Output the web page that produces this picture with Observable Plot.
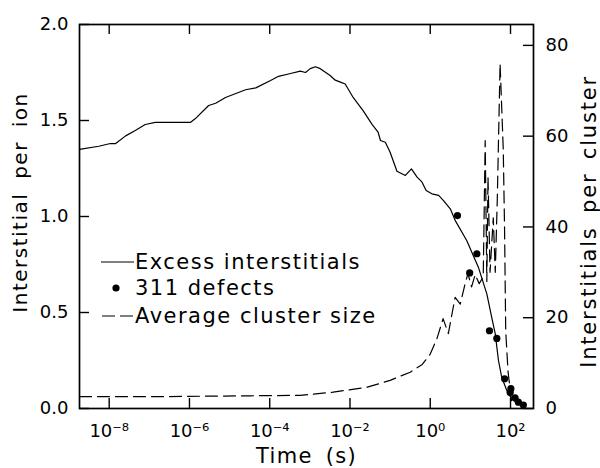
<!DOCTYPE html>
<html>
<head>
<meta charset="utf-8">
<script src="https://cdn.jsdelivr.net/npm/d3@7"></script>
<script src="https://cdn.jsdelivr.net/npm/@observablehq/plot@0.6"></script>
<style>
  body { margin: 0; background: #fff; }
  #wrap { position: relative; width: 600px; height: 468px; font-family: "DejaVu Sans", sans-serif; color: #000; overflow: hidden; }
  #legend .row { position: absolute; height: 26px; display: flex; align-items: center; font-size: 21px; letter-spacing: 1.5px; white-space: pre; }
  #legend svg { flex: none; }
</style>
</head>
<body>
<div id="wrap"><div id="legend"></div></div>
<script>
// ---- Data ----
// Excess interstitials (left axis, interstitials per ion)
const excessTime = [1.82e-9, 5.5e-9, 1.07e-8, 1.45e-8, 2.57e-8, 4.47e-8, 7.9e-8, 1.41e-7, 2.5e-7, 1.05e-6,
  1.41e-6, 3.0e-6, 4.5e-6, 7.9e-6, 2.5e-5, 4.5e-5, 1.05e-4, 1.66e-4, 3.3e-4, 5.8e-4,
  7.8e-4, 1.02e-3, 1.38e-3, 1.82e-3, 3.2e-3, 4.3e-3, 5.8e-3, 7.6e-3, 0.012, 0.0214,
  0.0355, 0.050, 0.0575, 0.076, 0.100, 0.148, 0.24, 0.34, 0.47, 0.62,
  0.79, 1.10, 1.62, 2.14, 3.16, 4.17, 8.1, 15.8, 25.7, 33.9,
  41.7, 50.1, 60.3, 81, 107, 158, 234];
const excessValue = [1.35, 1.366, 1.38, 1.38, 1.42, 1.448, 1.479, 1.49, 1.49, 1.49,
  1.51, 1.578, 1.59, 1.62, 1.66, 1.67, 1.708, 1.73, 1.745, 1.757,
  1.75, 1.77, 1.78, 1.77, 1.734, 1.71, 1.70, 1.69, 1.62, 1.55,
  1.48, 1.44, 1.396, 1.387, 1.335, 1.236, 1.214, 1.248, 1.205, 1.18,
  1.135, 1.118, 1.11, 1.083, 1.04, 0.98, 0.875, 0.736, 0.597, 0.476,
  0.389, 0.25, 0.163, 0.094, 0.05, 0.024, 0.016];

// 311 defects (left axis)
const defectTime = [4.77, 14.5, 9.6, 29.9, 45.6, 71.3, 102, 98, 130, 157, 209];
const defectValue = [1.005, 0.806, 0.706, 0.405, 0.365, 0.155, 0.103, 0.083, 0.056, 0.033, 0.018];

// Average cluster size (right axis, interstitials per cluster)
const clusterTime = [1.82e-9, 1.07e-7, 1.86e-6, 3.3e-5, 5.8e-4, 3.8e-3, 0.027, 0.1, 0.316, 0.63,
  1.0, 1.48, 2.09, 2.82, 4.17, 5.6, 7.4, 8.7, 10.7, 13.2,
  16.6, 20.9, 23.4, 25.7, 27.5, 30.9, 37.2, 41.7, 46.8, 55,
  66, 71, 76, 87, 110];
const clusterSize = [2.6, 2.6, 2.7, 2.8, 2.9, 3.6, 4.7, 6.2, 8.0, 9.7,
  12.0, 15.5, 19.8, 16.5, 24.5, 23.0, 27.5, 29.7, 26.8, 29.5,
  27.5, 29, 59, 28, 51, 30, 42, 30, 46, 76,
  57, 40, 17, 8, 0.5];

// Axis ticks and labels
const timeTicks = [1e-8, 1e-6, 1e-4, 1e-2, 1e0, 1e2];
const leftTicks = [0, 0.5, 1.0, 1.5, 2.0];
const rightTicks = [0, 20, 40, 60, 80];
const timeMin = 1.82e-9, timeMax = 374;
const leftMax = 2.0;
const rightMax = 84.6;            // right-axis value at top of the frame
const labelLeft = "Interstitial per ion";
const labelRight = "Interstitials per cluster";
const labelX = "Time (s)";
const legendLabels = ["Excess interstitials", "311 defects", "Average cluster size"];

// ---- Build tables ----
const factor = leftMax / rightMax;
const excess = excessTime.map((t, i) => ({t, v: excessValue[i]}));
const defects = defectTime.map((t, i) => ({t, v: defectValue[i]}));
const cluster = clusterTime.map((t, i) => ({t, v: clusterSize[i]}));
const rightTickPos = rightTicks.map(v => v * factor);

const sup = {"-": "\u207B", "0": "\u2070", "1": "\u00B9", "2": "\u00B2", "3": "\u00B3", "4": "\u2074", "5": "\u2075", "6": "\u2076", "7": "\u2077", "8": "\u2078", "9": "\u2079"};
const fmtPow = d => "10" + String(Math.round(Math.log10(d))).split("").map(c => sup[c]).join("");

const W = 600, H = 468, mL = 79, mR = 67, mT = 24, mB = 60;
const frameW = W - mL - mR, frameH = H - mT - mB, tickLen = 10;
// tick length expressed in each scale's units
const tickYLen = tickLen / frameH * leftMax;
const tickXRatio = Math.pow(timeMax / timeMin, tickLen / frameW);
const tickStyle = {stroke: "#000", strokeWidth: 1.4};

const chart = Plot.plot({
  width: W,
  height: H,
  marginLeft: mL,
  marginRight: mR,
  marginTop: mT,
  marginBottom: mB,
  style: {fontFamily: "DejaVu Sans, sans-serif", fontSize: "18px", color: "#000", background: "#fff", overflow: "visible"},
  x: {type: "log", domain: [timeMin, timeMax]},
  y: {domain: [0, leftMax]},
  marks: [
    // tick labels
    Plot.axisX({ticks: timeTicks, anchor: "bottom", tickSize: 0, tickPadding: 16, tickFormat: fmtPow, label: null}),
    Plot.axisY({ticks: leftTicks, anchor: "left", tickSize: 0, tickPadding: 11, tickFormat: d3.format(".1f"), label: null}),
    Plot.axisY({ticks: rightTickPos, anchor: "right", tickSize: 0, tickPadding: 12, tickFormat: d => String(Math.round(d / factor)), label: null}),
    // data
    Plot.line(cluster, {x: "t", y: d => d.v * factor, stroke: "#000", strokeWidth: 1.2, strokeDasharray: "12,6"}),
    Plot.line(excess, {x: "t", y: "v", stroke: "#000", strokeWidth: 1.2}),
    Plot.dot(defects, {x: "t", y: "v", r: 3.6, fill: "#000", stroke: "none"}),
    // inward ticks on all four sides
    Plot.ruleX(timeTicks, {x: d => d, y1: 0, y2: tickYLen, ...tickStyle}),
    Plot.ruleX(timeTicks, {x: d => d, y1: leftMax - tickYLen, y2: leftMax, ...tickStyle}),
    Plot.ruleY(leftTicks, {y: d => d, x1: timeMin, x2: timeMin * tickXRatio, ...tickStyle}),
    Plot.ruleY(rightTickPos, {y: d => d, x1: timeMax / tickXRatio, x2: timeMax, ...tickStyle}),
    Plot.frame({stroke: "#000", strokeWidth: 1.7}),
    // axis titles
    Plot.text([labelLeft], {text: d => d, frameAnchor: "left", textAnchor: "middle", lineAnchor: "middle", dx: -59, dy: -14, rotate: -90, fontSize: 20}),
    Plot.text([labelRight], {text: d => d, frameAnchor: "right", textAnchor: "middle", lineAnchor: "middle", dx: 56, dy: 5, rotate: -90, fontSize: 21}),
    Plot.text([labelX], {text: d => d, frameAnchor: "bottom", textAnchor: "middle", lineAnchor: "middle", dy: 48, fontSize: 21})
  ]
});

const spacing = {[labelLeft]: ["1.5px", "6px"], [labelRight]: ["1.8px", "5px"], [labelX]: ["1.3px", "5px"]};
d3.select(chart).selectAll("text").each(function() {
  const s = spacing[this.textContent];
  if (s) d3.select(this).attr("letter-spacing", s[0]).attr("word-spacing", s[1]);
});

const wrap = document.getElementById("wrap");
wrap.insertBefore(chart, wrap.firstChild);

// ---- Legend (overlay inside the plot frame) ----
const legend = d3.select("#legend");
const rows = [
  {label: legendLabels[0], kind: "line", cy: 262},
  {label: legendLabels[1], kind: "dot", cy: 288},
  {label: legendLabels[2], kind: "dash", cy: 316}
];
rows.forEach(r => {
  const row = legend.append("div").attr("class", "row")
    .style("left", "101px").style("top", (r.cy - 13) + "px");
  const s = row.append("svg").attr("width", 34).attr("height", 26);
  if (r.kind === "line") s.append("line").attr("x1", 0).attr("x2", 33).attr("y1", 13).attr("y2", 13).attr("stroke", "#000").attr("stroke-width", 1.2);
  if (r.kind === "dot") s.append("circle").attr("cx", 15).attr("cy", 13).attr("r", 3.6).attr("fill", "#000");
  if (r.kind === "dash") s.append("line").attr("x1", 1).attr("x2", 33).attr("y1", 13).attr("y2", 13).attr("stroke", "#000").attr("stroke-width", 1.2).attr("stroke-dasharray", "13,5");
  row.append("span").text(r.label);
});
</script>
</body>
</html>
